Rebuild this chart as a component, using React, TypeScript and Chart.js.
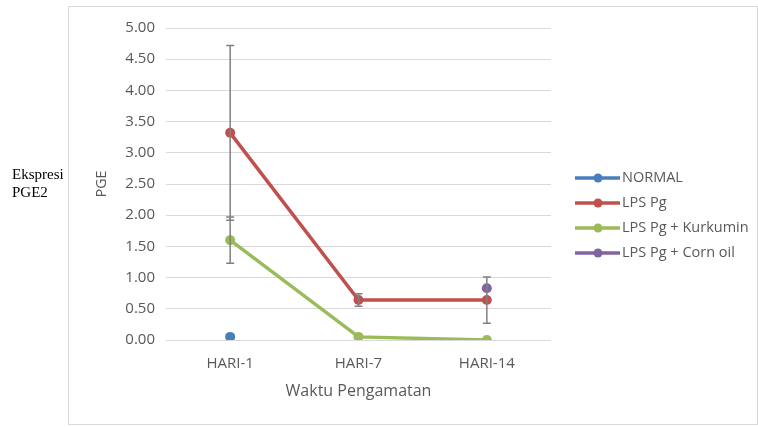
import React, { useEffect, useRef } from "react";
import { Chart, registerables } from "chart.js";

Chart.register(...registerables);

const categories = ["HARI-1", "HARI-7", "HARI-14"];
const normalValues = [0.05, null, null];
const lpsValues = [3.32, 0.64, 0.64];
const lpsErrors = [1.4, 0.1, 0.37];
const kurkuminValues = [1.6, 0.05, 0.0];
const kurkuminErrors = [0.37, 0, 0];
const cornOilValues = [null, null, 0.83];
const yTicks = [0, 0.5, 1, 1.5, 2, 2.5, 3, 3.5, 4, 4.5, 5];

const FONT = "'Open Sans', Lato, sans-serif";
const TEXT = "#595959";

const errorBarPlugin = {
  id: "errorBars",
  afterDatasetsDraw(chart: any) {
    const { ctx } = chart;
    const x = chart.scales.x;
    const y = chart.scales.y;
    const sets = [
      { vals: lpsValues, errs: lpsErrors },
      { vals: kurkuminValues, errs: kurkuminErrors },
    ];
    ctx.save();
    ctx.strokeStyle = "#808080";
    ctx.lineWidth = 1.5;
    sets.forEach((s) => {
      s.vals.forEach((v, i) => {
        const e = s.errs[i];
        if (v == null || !e) return;
        const px = x.getPixelForValue(i);
        const top = y.getPixelForValue(v + e);
        const bot = y.getPixelForValue(v - e);
        ctx.beginPath();
        ctx.moveTo(px, top);
        ctx.lineTo(px, bot);
        ctx.moveTo(px - 4, top);
        ctx.lineTo(px + 4, top);
        ctx.moveTo(px - 4, bot);
        ctx.lineTo(px + 4, bot);
        ctx.stroke();
      });
    });
    ctx.restore();
  },
};

const framePlugin = {
  id: "frame",
  beforeDraw(chart: any) {
    const { ctx } = chart;
    ctx.save();
    ctx.fillStyle = "#ffffff";
    ctx.fillRect(0, 0, chart.width, chart.height);
    ctx.strokeStyle = "#d9d9d9";
    ctx.lineWidth = 1;
    ctx.strokeRect(68.5, 6.5, 689, 418);
    ctx.restore();
  },
};

const legendPlugin = {
  id: "customLegend",
  afterDraw(chart: any) {
    const { ctx } = chart;
    ctx.save();
    ctx.font = `14.5px ${FONT}`;
    ctx.textBaseline = "middle";
    chart.data.datasets.forEach((ds: any, i: number) => {
      const y = 178 + i * 25;
      ctx.strokeStyle = ds.borderColor;
      ctx.lineWidth = 3.5;
      ctx.beginPath();
      ctx.moveTo(575, y);
      ctx.lineTo(620, y);
      ctx.stroke();
      ctx.fillStyle = ds.borderColor;
      ctx.beginPath();
      ctx.arc(598, y, 4.5, 0, Math.PI * 2);
      ctx.fill();
      ctx.fillStyle = TEXT;
      ctx.fillText(ds.label, 622, y);
    });
    ctx.restore();
  },
};

export default function App() {
  const ref = useRef<HTMLCanvasElement>(null);
  useEffect(() => {
    const mk = (label: string, data: any[], color: string) => ({
      label,
      data,
      borderColor: color,
      backgroundColor: color,
      borderWidth: 3.5,
      pointRadius: 5,
      pointHoverRadius: 5,
      pointBorderWidth: 0,
      spanGaps: false,
    });
    const chart = new Chart(ref.current!, {
      type: "line",
      data: {
        labels: categories,
        datasets: [
          mk("NORMAL", normalValues, "#4a7ebb"),
          mk("LPS Pg", lpsValues, "#c0504d"),
          mk("LPS Pg + Kurkumin", kurkuminValues, "#9bbb59"),
          mk("LPS Pg + Corn oil", cornOilValues, "#8064a2"),
        ],
      },
      options: {
        responsive: false,
        animation: false,
        layout: { padding: { left: 90, top: 28, right: 207, bottom: 22 } },
        plugins: { legend: { display: false }, tooltip: { enabled: false } },
        scales: {
          x: {
            offset: true,
            grid: { display: false, drawTicks: false },
            border: { display: false },
            ticks: { color: TEXT, font: { family: FONT, size: 15 }, padding: 15 },
            title: {
              display: true,
              text: "Waktu Pengamatan",
              color: TEXT,
              font: { family: FONT, size: 16 },
            },
            afterFit(scale: any) {
              scale.height = 65;
            },
          },
          y: {
            min: 0,
            max: 5,
            afterBuildTicks(scale: any) {
              scale.ticks = yTicks.map((v) => ({ value: v }));
            },
            grid: { color: "#d9d9d9", drawTicks: false },
            border: { display: false },
            ticks: {
              color: TEXT,
              font: { family: FONT, size: 15 },
              padding: 11,
              callback: (v: any) => Number(v).toFixed(2),
            },
            title: {
              display: true,
              text: "PGE",
              color: TEXT,
              font: { family: FONT, size: 14 },
            },
            afterFit(scale: any) {
              scale.width = 76;
            },
          },
        },
      },
      plugins: [framePlugin, errorBarPlugin, legendPlugin],
    });
    return () => chart.destroy();
  }, []);

  return (
    <div style={{ position: "fixed", left: 0, top: 0, width: 758, height: 427, background: "#fff" }}>
      <canvas ref={ref} width={758} height={427} style={{ width: 758, height: 427, display: "block" }} />
      <div
        style={{
          position: "absolute",
          left: 12,
          top: 165,
          fontFamily: "'Liberation Serif', 'DejaVu Serif', serif",
          fontSize: 15,
          lineHeight: "18px",
          color: "#000",
        }}
      >
        Ekspresi
        <br />
        PGE2
      </div>
    </div>
  );
}
